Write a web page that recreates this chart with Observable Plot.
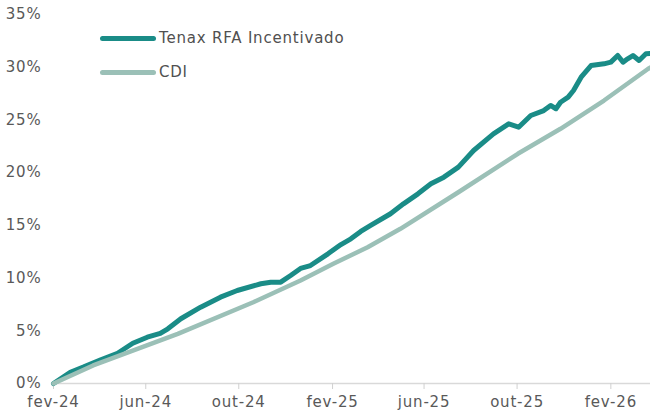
<!DOCTYPE html>
<html>
<head>
<meta charset="utf-8">
<script src="https://cdn.jsdelivr.net/npm/d3@7"></script>
<script src="https://cdn.jsdelivr.net/npm/@observablehq/plot@0.6"></script>
<style>
  html, body { margin: 0; padding: 0; background: #fff; }
  #wrap { position: relative; width: 650px; height: 416px; font-family: "DejaVu Sans", sans-serif; }
  #wrap svg text { letter-spacing: 0.8px; }
  .leg { position: absolute; left: 100px; display: flex; align-items: center; font-size: 15px; letter-spacing: 0.8px; color: #505050; }
  .leg .sw { width: 56px; height: 5px; border-radius: 3px; margin-right: 3px; }
</style>
</head>
<body>
<div id="wrap"></div>
<script>
const seriesNames = ["Tenax RFA Incentivado", "CDI"];
const seriesColors = ["#1a8c87", "#9bc0b7"];

const tenaxDates = ["2024-02-01","2024-02-23","2024-03-11","2024-04-03","2024-04-25","2024-05-15","2024-06-03","2024-06-20","2024-06-30","2024-07-17","2024-08-12","2024-09-07","2024-09-29","2024-10-30","2024-11-12","2024-11-25","2024-12-08","2024-12-21","2025-01-03","2025-01-26","2025-02-12","2025-02-25","2025-03-10","2025-03-23","2025-04-18","2025-05-05","2025-05-24","2025-06-10","2025-06-27","2025-07-16","2025-08-05","2025-08-31","2025-09-20","2025-10-03","2025-10-19","2025-11-05","2025-11-14","2025-11-21","2025-11-27","2025-12-07","2025-12-14","2025-12-24","2026-01-06","2026-01-23","2026-02-01","2026-02-10","2026-02-17","2026-02-23","2026-03-02","2026-03-10","2026-03-19","2026-03-25"];
const tenaxValues = [0.00,1.07,1.55,2.25,2.87,3.82,4.39,4.75,5.19,6.14,7.24,8.19,8.82,9.46,9.61,9.61,10.24,10.91,11.19,12.30,13.18,13.72,14.42,14.99,16.10,17.04,17.99,18.94,19.57,20.52,22.10,23.68,24.63,24.31,25.42,25.89,26.37,26.06,26.68,27.16,27.79,29.05,30.16,30.32,30.48,31.11,30.48,30.80,31.11,30.64,31.27,31.30];

const cdiDates = ["2024-02-01","2024-03-24","2024-07-13","2024-10-20","2024-12-21","2025-02-02","2025-03-19","2025-05-01","2025-07-16","2025-10-02","2025-11-27","2026-01-23","2026-03-22","2026-03-25"];
const cdiValues = [0.00,1.71,4.71,7.71,9.77,11.35,12.93,14.67,18.14,21.79,24.16,26.84,29.85,29.97];

const xTicks = ["2024-02-01","2024-06-01","2024-10-01","2025-02-01","2025-06-01","2025-10-01","2026-02-01"];
const monthLabels = ["jan","fev","mar","abr","mai","jun","jul","ago","set","out","nov","dez"];
const yTicks = [0,5,10,15,20,25,30,35];

const parse = d3.utcParse("%Y-%m-%d");
const tenax = tenaxDates.map((d, i) => ({date: parse(d), value: tenaxValues[i] / 100}));
const cdi = cdiDates.map((d, i) => ({date: parse(d), value: cdiValues[i] / 100}));

const chart = Plot.plot({
  width: 650,
  height: 416,
  marginLeft: 53,
  marginRight: 0,
  marginTop: 14,
  marginBottom: 33,
  style: {fontFamily: "DejaVu Sans, sans-serif", fontSize: "15px", color: "#595959", background: "#fff", overflow: "visible"},
  x: {type: "utc", domain: [parse("2024-02-01"), parse("2026-03-25")]},
  y: {domain: [0, 0.35]},
  marks: [
    Plot.ruleY([0], {stroke: "#d9d9d9", strokeWidth: 1.5}),
    Plot.axisX({
      ticks: xTicks.map(parse),
      tickFormat: d => monthLabels[d.getUTCMonth()] + "-" + String(d.getUTCFullYear()).slice(2),
      tickSize: 6,
      tickPadding: 7,
      stroke: "#d0d0d0",
      fill: "#595959",
      fontSize: 15,
      label: null
    }),
    Plot.axisY({
      ticks: yTicks.map(v => v / 100),
      tickFormat: d => Math.round(d * 100) + "%",
      tickSize: 0,
      tickPadding: 12,
      fill: "#595959",
      fontSize: 15,
      label: null
    }),
    Plot.line(tenax, {x: "date", y: "value", stroke: seriesColors[0], strokeWidth: 5, strokeLinejoin: "round", strokeLinecap: "round"}),
    Plot.line(cdi, {x: "date", y: "value", stroke: seriesColors[1], strokeWidth: 4.5, strokeLinejoin: "round", strokeLinecap: "round"})
  ]
});

const wrap = document.getElementById("wrap");
wrap.appendChild(chart);
const legTops = [29, 63];
seriesNames.forEach((name, i) => {
  const el = document.createElement("div");
  el.className = "leg";
  el.style.top = legTops[i] + "px";
  el.innerHTML = `<span class="sw" style="background:${seriesColors[i]}"></span><span>${name}</span>`;
  wrap.appendChild(el);
});
</script>
</body>
</html>
